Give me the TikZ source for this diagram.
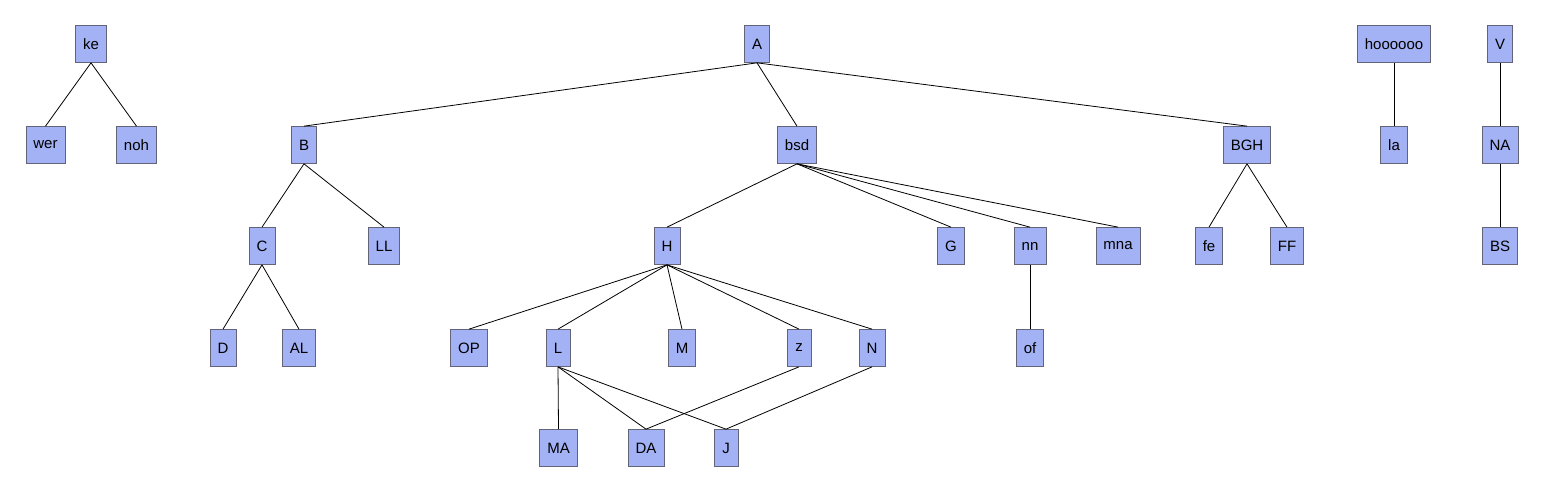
\documentclass[tikz,border=0pt]{standalone}
\usepackage{fontspec}
\setmainfont{Liberation Sans}
\definecolor{boxblue}{RGB}{163,177,245}
\definecolor{boxline}{RGB}{100,100,120}
\begin{document}
\begin{tikzpicture}[x=1pt, y=-1pt]
\tikzset{ box/.style={draw=boxline, fill=boxblue, line width=0.7pt, minimum height=37pt, minimum width=24pt, inner xsep=7.5pt, font=\fontsize{15}{17}\selectfont}, edge/.style={line width=0.8pt} }

\useasboundingbox (0,0) rectangle (1544,492);

% first row
\node [box] (ke) at (91,44) {ke};
\node [box] (A) at (757,44) {A};
\node [box] (hooo) at (1394,44) {hoooooo};
\node [box] (V) at (1500,44) {V};

% second row
\node [box] (wer) at (45.5,145) {wer};
\node [box] (noh) at (136.5,145) {noh};
\node [box] (B) at (304,145) {B};
\node [box] (bsd) at (797,145) {bsd};
\node [box] (BGH) at (1247,145) {BGH};
\node [box] (la) at (1394,145) {la};
\node [box] (NA) at (1500,145) {NA};

% third row
\node [box] (C) at (262,246) {C};
\node [box] (LL) at (384,246) {LL};
\node [box] (H) at (667,246) {H};
\node [box] (G) at (951,246) {G};
\node [box] (nn) at (1030,246) {nn};
\node [box] (mna) at (1118,246) {mna};
\node [box] (fe) at (1209,246) {fe};
\node [box] (FF) at (1287,246) {FF};
\node [box] (BS) at (1500,246) {BS};

% fourth row
\node [box] (D) at (223,348) {D};
\node [box] (AL) at (299,348) {AL};
\node [box] (OP) at (469,348) {OP};
\node [box] (L) at (558,348) {L};
\node [box] (M) at (682,348) {M};
\node [box] (z) at (799,348) {z};
\node [box] (N) at (872,348) {N};
\node [box] (of) at (1030,348) {of};

% fifth row
\node [box] (MA) at (558.5,448) {MA};
\node [box] (DA) at (646,448) {DA};
\node [box] (J) at (726,448) {J};

\draw [edge] (ke.south) -- (wer.north);
\draw [edge] (ke.south) -- (noh.north);

\draw [edge] (A.south) -- (B.north);
\draw [edge] (A.south) -- (bsd.north);
\draw [edge] (A.south) -- (BGH.north);

\draw [edge] (B.south) -- (C.north);
\draw [edge] (B.south) -- (LL.north);
\draw [edge] (C.south) -- (D.north);
\draw [edge] (C.south) -- (AL.north);

\draw [edge] (bsd.south) -- (H.north);
\draw [edge] (bsd.south) -- (G.north);
\draw [edge] (bsd.south) -- (nn.north);
\draw [edge] (bsd.south) -- (mna.north);

\draw [edge] (H.south) -- (OP.north);
\draw [edge] (H.south) -- (L.north);
\draw [edge] (H.south) -- (M.north);
\draw [edge] (H.south) -- (z.north);
\draw [edge] (H.south) -- (N.north);

\draw [edge] (L.south) -- (MA.north);
\draw [edge] (L.south) -- (DA.north);
\draw [edge] (L.south) -- (J.north);
\draw [edge] (z.south) -- (DA.north);
\draw [edge] (N.south) -- (J.north);

\draw [edge] (nn.south) -- (of.north);
\draw [edge] (BGH.south) -- (fe.north);
\draw [edge] (BGH.south) -- (FF.north);

\draw [edge] (hooo.south) -- (la.north);
\draw [edge] (V.south) -- (NA.north);
\draw [edge] (NA.south) -- (BS.north);
\end{tikzpicture}
\end{document}
